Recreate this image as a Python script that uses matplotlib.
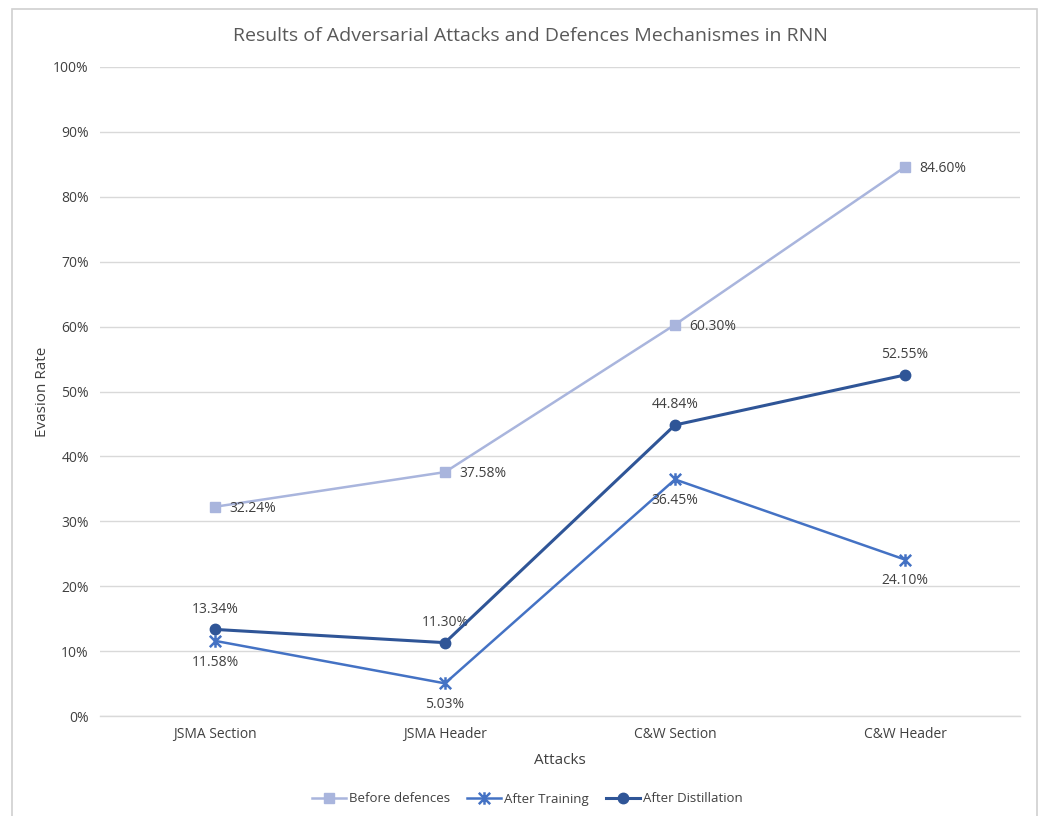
import matplotlib
matplotlib.use("Agg")
import matplotlib.pyplot as plt
from matplotlib.patches import Rectangle
from matplotlib.path import Path
from matplotlib.ticker import FuncFormatter

categories = ["JSMA Section", "JSMA Header", "C&W Section", "C&W Header"]
before = [32.24, 37.58, 60.30, 84.60]
training = [11.58, 5.03, 36.45, 24.10]
distillation = [13.34, 11.30, 44.84, 52.55]
yticks = list(range(0, 101, 10))

plt.rcParams['font.family'] = ['Open Sans', 'DejaVu Sans']
txt = '#404040'

star = Path([(-1, -1), (1, 1), (-1, 1), (1, -1), (0, -1.1), (0, 1.1)],
            [Path.MOVETO, Path.LINETO, Path.MOVETO, Path.LINETO, Path.MOVETO, Path.LINETO])

fig = plt.figure(figsize=(10.43, 8.16), dpi=100)
fig.patches.append(Rectangle((12/1043, -0.01), (1037-12)/1043, 1 - 9/816 + 0.01,
                             transform=fig.transFigure, fill=False,
                             edgecolor='#d0d0d0', linewidth=1.2))
ax = fig.add_axes([100/1043, 1-716/816, 920/1043, (716-67)/816])

x = list(range(len(categories)))
c_before = '#A9B5DD'
c_train = '#4472C4'
c_dist = '#2F5597'

ax.plot(x, before, color=c_before, marker='s', markersize=7, linewidth=1.8,
        label='Before defences', zorder=3)
ax.plot(x, training, color=c_train, marker=star, markersize=9, markeredgewidth=1.8,
        linewidth=1.8, label='After Training', zorder=3)
ax.plot(x, distillation, color=c_dist, marker='o', markersize=7.5, linewidth=2.2,
        label='After Distillation', zorder=4)

fs = 10
for xi, v in zip(x, before):
    ax.annotate(f"{v:.2f}%", (xi, v), xytext=(10, -1), textcoords='offset points',
                ha='left', va='center', fontsize=fs, color=txt)
for xi, v in zip(x, training):
    ax.annotate(f"{v:.2f}%", (xi, v), xytext=(0, -10), textcoords='offset points',
                ha='center', va='top', fontsize=fs, color=txt)
for xi, v in zip(x, distillation):
    ax.annotate(f"{v:.2f}%", (xi, v), xytext=(0, 9), textcoords='offset points',
                ha='center', va='bottom', fontsize=fs, color=txt)

ax.set_xlim(-0.5, len(categories) - 0.5)
ax.set_ylim(0, 100)
ax.set_yticks(yticks)
ax.yaxis.set_major_formatter(FuncFormatter(lambda v, p: f"{int(v)}%"))
ax.set_xticks(x)
ax.set_xticklabels(categories)
ax.tick_params(axis='both', length=0, labelsize=10, colors=txt)
ax.tick_params(axis='y', pad=8)
ax.tick_params(axis='x', pad=8)
ax.grid(axis='y', color='#d9d9d9', linewidth=1)
ax.set_axisbelow(True)
for s in ['top', 'right', 'left']:
    ax.spines[s].set_visible(False)
ax.spines['bottom'].set_color('#d9d9d9')
ax.spines['bottom'].set_linewidth(1)

ax.set_xlabel('Attacks', fontsize=11, color=txt, labelpad=8)
ax.set_ylabel('Evasion Rate', fontsize=11, color=txt, labelpad=2)
fig.text(530/1043, 1-36/816, 'Results of Adversarial Attacks and Defences Mechanismes in RNN',
         ha='center', va='center', fontsize=14, color='#595959')

fig.legend(loc='center', bbox_to_anchor=(527/1043, 1-799/816), ncol=3, frameon=False,
           fontsize=9.5, handlelength=2.6, columnspacing=1.3, handletextpad=0.2,
           labelcolor=txt)

fig.savefig('out.png', dpi=100, facecolor='white')
